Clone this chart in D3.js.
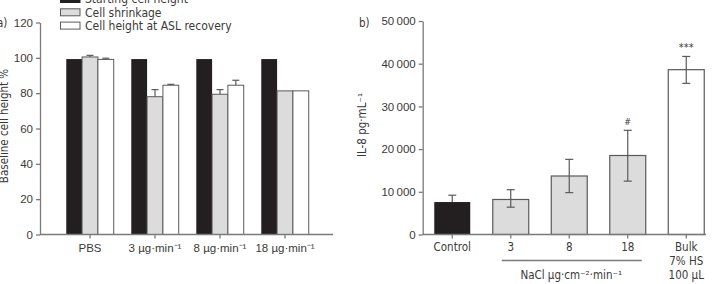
<!DOCTYPE html>
<html><head><meta charset="utf-8">
<script src="https://cdn.jsdelivr.net/npm/d3@7"></script>
<style>
body{margin:0;background:#fff;}
svg{display:block;font-family:"Liberation Sans Narrow","DejaVu Sans Condensed",sans-serif;}
</style></head><body>
<svg id="c" width="715" height="284"></svg>
<script>
// ---- Panel a data ----
const groupsA = ["PBS", "3 µg·min⁻¹", "8 µg·min⁻¹", "18 µg·min⁻¹"];
const seriesA = ["Starting cell height", "Cell shrinkage", "Cell height at ASL recovery"];
const startHeight = [99.3, 99.3, 99.3, 99.3];
const shrinkage = [100.5, 78, 79.4, 81.3];
const shrinkErr = [0.9, 4, 2.6, 0];
const recovery = [99.1, 84.5, 84.5, 81.3];
const recoveryErr = [0.7, 0.5, 2.8, 0];
const ticksA = [0, 20, 40, 60, 80, 100, 120];

// ---- Panel b data ----
const groupsB = ["Control", "3", "8", "18", "Bulk"];
const il8 = [7600, 8200, 13700, 18500, 38600];
const il8Lo = [7600, 6400, 9800, 12500, 35400];
const il8Hi = [9200, 10500, 17600, 24400, 41700];
const marksB = ["", "", "", "#", "***"];
const ticksB = [0, 10000, 20000, 30000, 40000, 50000];

const colors = ["#231f20", "#dcdcdc", "#ffffff"];
const axisCol = "#7a7a7a", textCol = "#3a3a3a", strokeCol = "#5a5a5a";

const svg = d3.select("#c");

// ===== Panel a =====
const ya = d3.scaleLinear().domain([0, 120]).range([234.5, 22.5]);
const xa = d3.scaleBand().domain(groupsA).range([57.5, 317.5]).paddingInner(0.27).paddingOuter(0.135);
const xs = d3.scaleBand().domain(seriesA).range([0, xa.bandwidth()]);
const gA = svg.append("g");

const valsA = [startHeight, shrinkage, recovery];
const errsA = [null, shrinkErr, recoveryErr];
seriesA.forEach((s, si) => {
  groupsA.forEach((g, gi) => {
    const v = valsA[si][gi];
    const x0 = xa(g) + xs(s);
    gA.append("rect").attr("x", x0).attr("y", ya(v)).attr("width", xs.bandwidth()).attr("height", ya(0) - ya(v))
      .attr("fill", colors[si]).attr("stroke", si === 0 ? "#231f20" : strokeCol).attr("stroke-width", si === 0 ? 0 : 1);
    if (errsA[si] && errsA[si][gi] > 0) {
      const cx = x0 + xs.bandwidth() / 2, top = ya(v + errsA[si][gi]);
      gA.append("line").attr("x1", cx).attr("x2", cx).attr("y1", ya(v)).attr("y2", top).attr("stroke", strokeCol).attr("stroke-width", 1.2);
      gA.append("line").attr("x1", cx - 3.5).attr("x2", cx + 3.5).attr("y1", top).attr("y2", top).attr("stroke", strokeCol).attr("stroke-width", 1.2);
    }
  });
});

// y axis a
const yAxA = gA.append("g").attr("transform", "translate(40,0)").call(d3.axisLeft(ya).tickValues(ticksA).tickSize(4).tickSizeOuter(0));
// x axis a
const xAxA = gA.append("g").attr("transform", `translate(0,${ya(0)})`)
  .call(d3.axisBottom(xa).tickSize(4).tickSizeOuter(0));
xAxA.select(".domain").attr("d", `M40,0H333`);
[yAxA, xAxA].forEach(a => {
  a.selectAll(".domain,line").attr("stroke", axisCol).attr("stroke-width", 1.3);
  a.selectAll("text").attr("fill", textCol).attr("font-size", 11.5).attr("font-family", null);
});
xAxA.selectAll("text").attr("dy", "0.95em");

gA.append("text").attr("transform", "translate(8,126) rotate(-90)").attr("text-anchor", "middle")
  .attr("fill", textCol).attr("font-size", 11.5).text("Baseline cell height %");
gA.append("text").attr("x", -3).attr("y", 27).attr("fill", textCol).attr("font-size", 11.5).text("a)");

// legend
seriesA.forEach((s, i) => {
  const y = -1 + i * 13.3;
  gA.append("rect").attr("x", 60.5).attr("y", y - 3.5).attr("width", 19.5).attr("height", 7)
    .attr("fill", colors[i]).attr("stroke", i === 0 ? "#231f20" : strokeCol).attr("stroke-width", 1);
  gA.append("text").attr("x", 85).attr("y", y).attr("dy", "0.35em").attr("fill", textCol).attr("font-size", 12).text(s);
});

// ===== Panel b =====
const yb = d3.scaleLinear().domain([0, 50000]).range([234.5, 21]);
const xb = d3.scaleBand().domain(groupsB).range([423, 715.5]).paddingInner(0.385).paddingOuter(0.1925);
const gB = svg.append("g");
const fillB = ["#231f20", "#dcdcdc", "#dcdcdc", "#dcdcdc", "#ffffff"];
groupsB.forEach((g, i) => {
  gB.append("rect").attr("x", xb(g)).attr("y", yb(il8[i])).attr("width", xb.bandwidth()).attr("height", yb(0) - yb(il8[i]))
    .attr("fill", fillB[i]).attr("stroke", i === 0 ? "#231f20" : strokeCol).attr("stroke-width", i === 0 ? 0 : 1.2);
});
groupsB.forEach((g, i) => {
  const cx = xb(g) + xb.bandwidth() / 2;
  const lo = yb(il8Lo[i]), hi = yb(il8Hi[i]);
  const ec = i === 0 ? "#5a5a5a" : strokeCol;
  gB.append("line").attr("x1", cx).attr("x2", cx).attr("y1", lo).attr("y2", hi).attr("stroke", ec).attr("stroke-width", 1.2);
  gB.append("line").attr("x1", cx - 4).attr("x2", cx + 4).attr("y1", hi).attr("y2", hi).attr("stroke", ec).attr("stroke-width", 1.2);
  if (il8Lo[i] < il8[i]) gB.append("line").attr("x1", cx - 4).attr("x2", cx + 4).attr("y1", lo).attr("y2", lo).attr("stroke", ec).attr("stroke-width", 1.2);
  if (marksB[i]) gB.append("text").attr("x", cx).attr("y", hi - 5).attr("text-anchor", "middle")
    .attr("fill", textCol).attr("font-size", marksB[i] === "#" ? 9 : 11).text(marksB[i]);
});

const fmt = v => v === 0 ? "0" : d3.format(",")(v).replace(",", "\u2009");
const yAxB = gB.append("g").attr("transform", "translate(422.7,0)").call(d3.axisLeft(yb).tickValues(ticksB).tickFormat(fmt).tickSize(4).tickSizeOuter(0));
const xAxB = gB.append("g").attr("transform", `translate(0,${yb(0)})`).call(d3.axisBottom(xb).tickSize(4).tickSizeOuter(0).tickFormat(() => ""));
xAxB.select(".domain").attr("d", "M422.7,0H706");
[yAxB, xAxB].forEach(a => {
  a.selectAll(".domain,line").attr("stroke", axisCol).attr("stroke-width", 1.3);
  a.selectAll("text").attr("fill", textCol).attr("font-size", 11.5).attr("font-family", null);
});

const labelsB = [["Control"], ["3"], ["8"], ["18"], ["Bulk", "7% HS", "100 µL"]];
groupsB.forEach((g, i) => {
  const cx = xb(g) + xb.bandwidth() / 2;
  labelsB[i].forEach((t, j) => {
    gB.append("text").attr("x", cx).attr("y", 251 + j * 14).attr("text-anchor", "middle").attr("fill", textCol).attr("font-size", 11.5).text(t);
  });
});
const x3 = xb("3") + xb.bandwidth() / 2, x18 = xb("18") + xb.bandwidth() / 2;
gB.append("line").attr("x1", x3 - 9).attr("x2", x18 + 14).attr("y1", 260.5).attr("y2", 260.5).attr("stroke", axisCol).attr("stroke-width", 1.3);
gB.append("text").attr("x", (x3 + x18) / 2 + 2).attr("y", 279).attr("text-anchor", "middle").attr("fill", textCol).attr("font-size", 11.5)
  .text("NaCl µg·cm⁻²·min⁻¹");

gB.append("text").attr("transform", "translate(366,125) rotate(-90)").attr("text-anchor", "middle")
  .attr("fill", textCol).attr("font-size", 11.5).text("IL-8 pg·mL⁻¹");
gB.append("text").attr("x", 359).attr("y", 27).attr("fill", textCol).attr("font-size", 11.5).text("b)");
</script></body></html>
